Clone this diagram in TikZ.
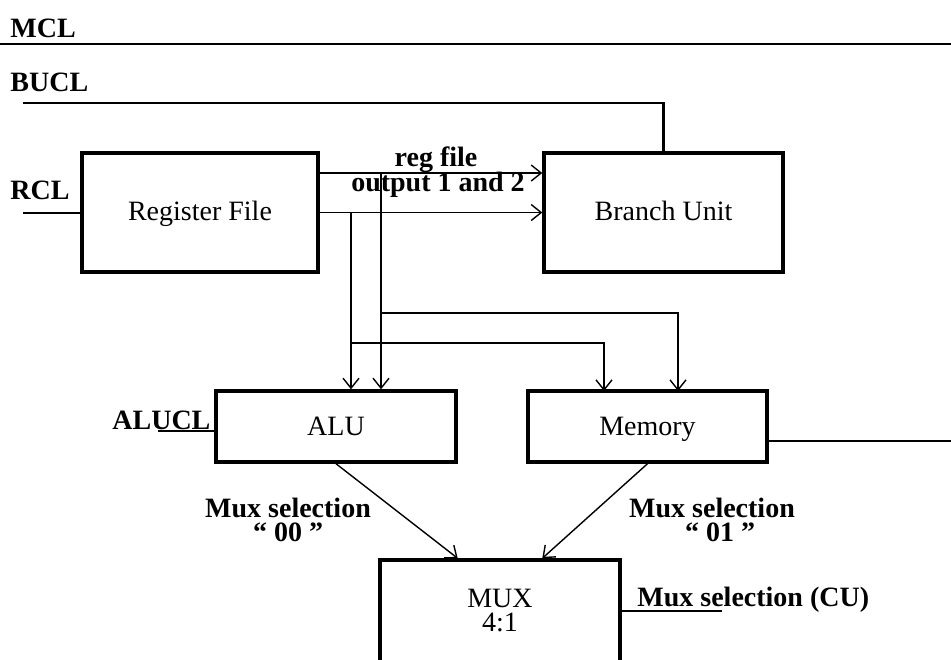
\documentclass[tikz,border=0pt]{standalone}
\usepackage{fontspec}
\setmainfont{Liberation Serif}
\usetikzlibrary{positioning, arrows.meta}
\newcommand\tightlines{\lineskiplimit=-6pt\relax}

\begin{document}
\begin{tikzpicture}[
  x=0.5pt, y=-0.5pt,
  >={Straight Barb[length=5pt, width=8pt]},
  every node/.style={font=\fontsize{14}{12}\selectfont\tightlines},
  unit/.style={draw, line width=1.7pt, inner sep=0pt, text height=2.1ex, text depth=.25ex},
  sig/.style={font=\fontsize{14}{12}\selectfont\tightlines\bfseries, inner sep=0pt, align=center},
  wire/.style={line width=0.7pt}
]
  \clip (0,0) rectangle (951,659);

  % blocks
  \node[unit, minimum width=118pt, minimum height=59.5pt] (rf) at (200,212.5) {Register File};
  \node[unit, minimum width=119.5pt, minimum height=59.5pt] (bu) at (663.5,212.5) {Branch Unit};
  \node[unit, minimum width=120pt, minimum height=35.5pt] (alu) at (336,426.5) {ALU};
  \node[unit, minimum width=119.5pt, minimum height=35.5pt] (mem) at (647.5,426.5) {Memory};
  \node[unit, minimum width=120pt, minimum height=55pt] (mux) at (500,615) {};
  \node[align=center, inner sep=0pt] (muxtext) at (500,611) {MUX\\4:1};

  % control lines
  \node[sig, anchor=west] (mcl) at (10,28) {MCL};
  \node[sig, anchor=west] (bucl) at (10,82) {BUCL};
  \node[sig, anchor=west] (rcl) at (10,190) {RCL};
  \node[sig, anchor=west] (alucl) at (112,420) {ALUCL};
  \node[sig, anchor=west] (cusel) at (637,600) {Mux selection (CU)};

  \coordinate (mcl l) at (0,44);
  \coordinate (mcl r) at (951,44);
  \coordinate (bucl in) at (23,103);
  \coordinate (rcl in) at (23,213);
  \coordinate (alucl in) at (158,431);
  \coordinate (mem out) at (951,441);
  \coordinate (cu in) at (722,611);

  \draw[wire] (mcl l) -- (mcl r);
  \draw[line width=1.2pt] (bucl in) -| (bu.north);
  \draw[wire] (rcl in) -- (rcl in -| rf.west);
  \draw[wire] (alucl in) -- (alucl in -| alu.west);
  \draw[wire] (mem out -| mem.east) -- (mem out);
  \draw[wire] (cu in -| mux.east) -- (cu in);

  % register outputs
  \coordinate (out1) at (318,173);
  \coordinate (j1) at (381,173);
  \coordinate (j2) at (351,212.5);
  \coordinate (m1) at (381,313);
  \coordinate (m2) at (351,343);
  \coordinate (mem a) at (604,391);
  \coordinate (mem b) at (678,391);

  \node[sig] (regfile) at (436,160) {reg file};
  \node[sig] (regout) at (438,185) {output 1 and 2};

  \draw[wire, ->] (out1) -- (out1 -| bu.west);
  \draw[wire, ->] (rf.east) -- (bu.west);
  \draw[wire, ->] (j1) -- (j1 |- alu.north);
  \draw[wire, ->] (j2) -- (j2 |- alu.north);
  \draw[wire, ->] (m1) -| (mem b);
  \draw[wire, ->] (m2) -| (mem a);

  % mux inputs
  \draw[wire, ->] (alu.south) -- (mux.north -| alu.east);
  \draw[wire, ->] (mem.south) -- (mux.north -| bu.west);
  \node[sig] (sel00) at (288,520) {Mux selection\\“ 00 ”};
  \node[sig] (sel01) at (712,520) {Mux selection\\\hspace{8pt}“ 01 ”};
\end{tikzpicture}
\end{document}
